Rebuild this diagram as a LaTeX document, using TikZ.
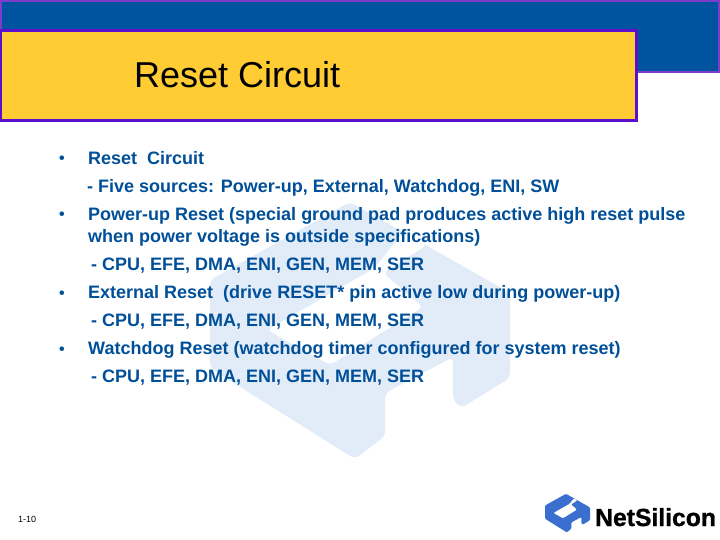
\documentclass[tikz,border=0pt]{standalone}
\usepackage{fontspec}
\setmainfont{Liberation Sans}
\newfontfamily\logofont[FakeBold=1]{Liberation Sans Bold}
\definecolor{barblue}{HTML}{00539F}
\definecolor{barline}{HTML}{7F3CCB}
\definecolor{boxyellow}{HTML}{FFCC33}
\definecolor{boxline}{HTML}{5A10CC}
\definecolor{textblue}{HTML}{004F98}
\definecolor{markblue}{HTML}{E1ECF8}
\definecolor{logoblue}{HTML}{3A6FCF}
\newcommand{\logomark}[2]{%
	\fill[#1,rounded corners=#2] (350,202) -- (510,293) -- (510,378) -- (461,408) -- (453,400) -- (453,357) -- (385,393) -- (385,436) -- (355,459) -- (210,368) -- (210,280) -- cycle;
	\fill[white,rounded corners=#2] (403,232) -- (427,245) -- (383,273) -- (423,307) -- (330,365) -- (267,330) -- (375,268) -- cycle;
}
\tikzset{
	body/.style={anchor=base west,inner sep=0pt,text=textblue,font=\fontsize{18}{18}\selectfont\bfseries},
	dot/.style={anchor=base,inner sep=0pt,text=textblue,font=\fontsize{16}{16}\selectfont\bfseries}
}
\begin{document}
\begin{tikzpicture}[x=1pt,y=-1pt]
	\useasboundingbox (0,0) rectangle (720,540);
	\logomark{markblue}{5pt}
	\draw[fill=barblue,draw=barline,line width=2pt] (1,1) rectangle (719,72.5);
	\draw[fill=boxyellow,draw=boxline,line width=3pt] (0.5,30.5) rectangle (636,120.5);
	\node[anchor=base west,inner sep=0pt,font=\fontsize{36}{36}\selectfont] (title) at (134,88) {Reset Circuit};
	\node[dot] (bulleta) at (62,164) {•};
	\node[body] (linea) at (88,164.6) {Reset\ \ Circuit};
	\node[body] (lineb) at (87,192.6) {- Five sources: Power-up, External, Watchdog, ENI, SW};
	\node[dot] (bulletb) at (62,220) {•};
	\node[body] (linec) at (88,220.6) {Power-up Reset (special ground pad produces active high reset pulse};
	\node[body] (lined) at (88,242.6) {when power voltage is outside specifications)};
	\node[body] (linee) at (91,270.6) {- CPU, EFE, DMA, ENI, GEN, MEM, SER};
	\node[dot] (bulletc) at (62,298) {•};
	\node[body] (linef) at (88,298.6) {External Reset\ \ (drive RESET* pin active low during power-up)};
	\node[body] (lineg) at (91,326.6) {- CPU, EFE, DMA, ENI, GEN, MEM, SER};
	\node[dot] (bulletd) at (62,354) {•};
	\node[body] (lineh) at (88,354.6) {Watchdog Reset (watchdog timer configured for system reset)};
	\node[body] (linei) at (91,382.6) {- CPU, EFE, DMA, ENI, GEN, MEM, SER};
	\node[anchor=base west,inner sep=0pt,font=\fontsize{9}{9}\selectfont] (pagenum) at (18,522) {1-10};
	\begin{scope}[shift={(513.5,463.5)},scale=0.15]
		\logomark{logoblue}{1pt}
	\end{scope}
	\node[anchor=base west,inner sep=0pt,font=\fontsize{24.7}{24.7}\selectfont\logofont] (logoname) at (595,526) {NetSilicon};
\end{tikzpicture}
\end{document}
